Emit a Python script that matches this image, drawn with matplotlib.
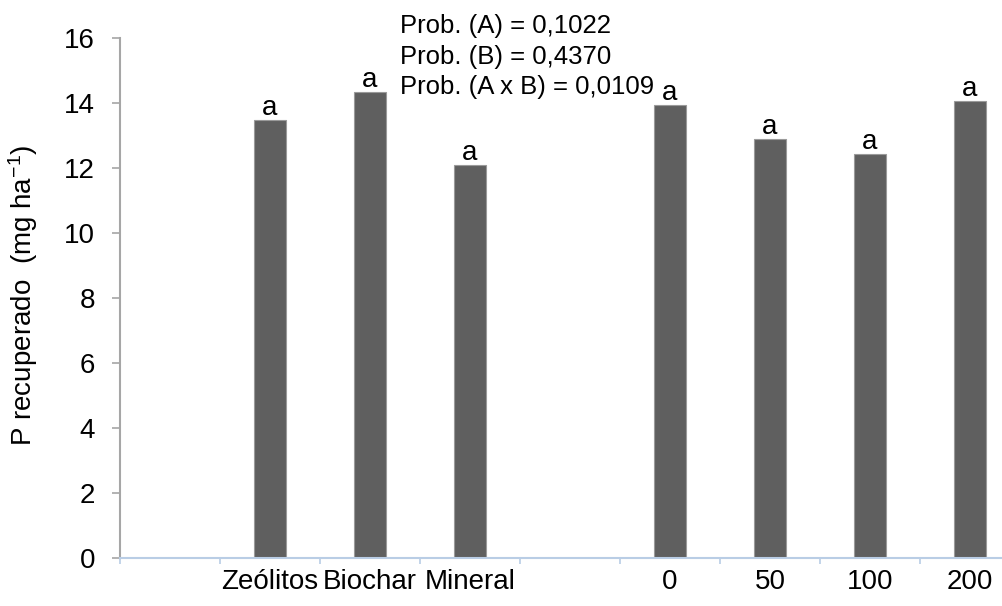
import numpy as np
import matplotlib
matplotlib.use("Agg")
import matplotlib.pyplot as plt

plt.rcParams['font.family'] = ['Liberation Sans', 'DejaVu Sans']
plt.rcParams['mathtext.fontset'] = 'custom'
plt.rcParams['mathtext.rm'] = 'Liberation Sans'
plt.rcParams['mathtext.it'] = 'Liberation Sans:italic'

# categorias do eixo x (as vazias sao espacos no grafico)
categorias = ["", "Zeólitos", "Biochar", "Mineral", "", "0", "50", "100", "200"]
p_recuperado = [None, 13.48, 14.34, 12.10, None, 13.94, 12.89, 12.43, 14.07]
letras = [None, "a", "a", "a", None, "a", "a", "a", "a"]
probs = ["Prob. (A) = 0,1022", "Prob. (B) = 0,4370", "Prob. (A x B) = 0,0109"]

W, H = 1003, 606
fig = plt.figure(figsize=(W / 100, H / 100), dpi=100)
ax = fig.add_axes([120 / W, (H - 557.7) / H, 900 / W, (557.7 - 38.3) / H])

x = np.arange(len(categorias))
xs = [i for i, v in zip(x, p_recuperado) if v is not None]
ys = [v for v in p_recuperado if v is not None]
ax.bar(xs, ys, width=0.32, color="#5f5f5f", edgecolor="#9a9a9a", linewidth=0.8, zorder=2)

for i, v, l in zip(x, p_recuperado, letras):
    if v is None:
        continue
    ax.text(i, v + 0.16, l, ha="center", va="baseline", fontsize=20)

ax.set_xlim(-0.5, len(categorias) - 0.5)
ax.set_ylim(0, 16)
ax.set_yticks(np.arange(0, 17, 2))

ax.set_xticks(x)
ax.set_xticklabels(categorias, fontsize=20)
ax.set_xticks(np.arange(-0.5, len(categorias) + 0.5, 1), minor=True)
ax.tick_params(axis="x", which="major", length=0, pad=8)
ax.tick_params(axis="x", which="minor", length=4.5, width=1.2, color="#b9cde5", direction="out")
ax.tick_params(axis="y", length=6, width=1.2, color="#a6a6a6", direction="out", labelsize=20, pad=12)

for s in ["top", "right"]:
    ax.spines[s].set_visible(False)
ax.spines["left"].set_color("#a6a6a6")
ax.spines["left"].set_linewidth(1.5)
ax.spines["bottom"].set_color("#b9cde5")
ax.spines["bottom"].set_linewidth(1.5)

fig.text(23 / W, 1 - 295 / H, r"P recuperado  (mg ha$^{\mathrm{-1}}$)", rotation=90,
         ha="center", va="center", fontsize=20)

for k, t in enumerate(probs):
    ax.text(2.3, 16.16 - 0.94 * k, t, ha="left", va="baseline", fontsize=18.5)

fig.savefig("out.png", dpi=100)
